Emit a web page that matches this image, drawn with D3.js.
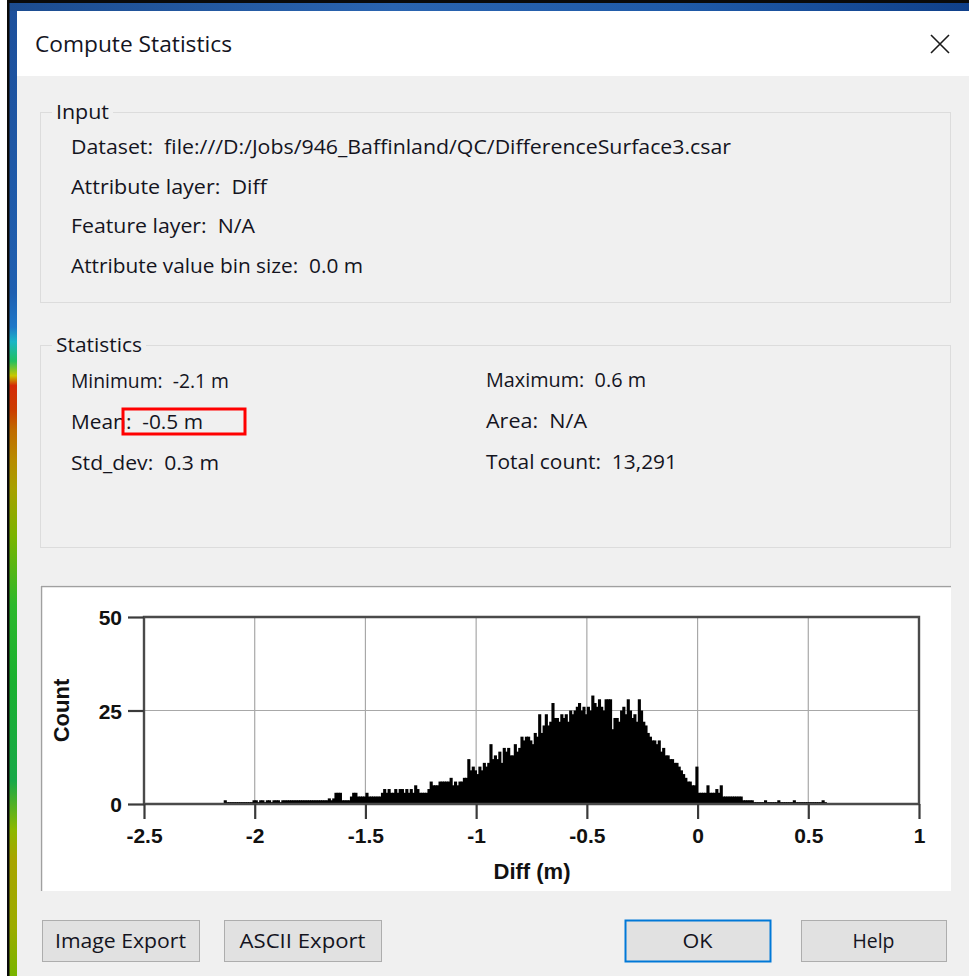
<!DOCTYPE html>
<html>
<head>
<meta charset="utf-8">
<script src="https://cdn.jsdelivr.net/npm/d3@7"></script>
<style>
  html, body { margin: 0; padding: 0; background: #ffffff; }
  svg { display: block; }
  text { white-space: pre; }
</style>
</head>
<body>
<svg id="chart" width="969" height="976"></svg>
<script>
// ---------------- DATA ----------------
// Histogram of "Diff (m)": bin start, bin width, and counts
const binStart = -2.14;
const binWidth = 0.01;
const counts = [
  // -2.14 .. -2.05
  1, 0.5, 0.5, 0.5, 0.5, 0.5, 0.5, 0.5, 0.5, 0.5,
  // -2.04 .. -1.95
  0.5, 0.5, 0.5, 1, 1, 0.5, 1, 1, 0.5, 1,
  // -1.94 .. -1.85
  1, 0.5, 1, 1, 1, 0.5, 1, 1, 1, 1,
  // -1.84 .. -1.75
  1, 1, 1, 1, 1, 1, 1, 1, 1, 1,
  // -1.74 .. -1.65
  1, 1, 1, 1, 1, 1, 1, 1.5, 1, 1.5,
  // -1.64 .. -1.55
  3, 3, 3, 1, 1, 1, 1, 2, 3, 3,
  // -1.54 .. -1.45
  2, 2, 2, 2, 3, 2, 2, 2, 2, 2,
  // -1.44 .. -1.35
  2, 3, 4, 3, 4, 3, 3, 4, 3, 4,
  // -1.34 .. -1.25
  4, 3, 4, 3, 4, 3, 5, 4, 3, 3,
  // -1.24 .. -1.15
  3, 3, 4, 6, 5, 5, 5, 6, 6, 6,
  // -1.14 .. -1.05
  6, 6, 7, 5, 6, 5, 6, 6, 7, 7,
  // -1.04 .. -0.95
  12, 9, 10, 9, 8, 10, 9, 11, 10, 11,
  // -0.94 .. -0.85
  16, 12, 13, 12, 14, 11, 15, 14, 15, 13,
  // -0.84 .. -0.75
  13, 16, 14, 15, 18, 17, 18, 18, 17, 16,
  // -0.74 .. -0.65
  19, 18, 24, 19, 21, 24, 21, 22, 27, 23,
  // -0.64 .. -0.55
  23, 22, 24, 23, 24, 22, 25, 24, 25, 26,
  // -0.54 .. -0.45
  27, 25, 26, 24, 26, 25, 29, 27, 26, 28,
  // -0.44 .. -0.35
  26, 25, 28, 28, 28, 20, 23, 23, 22, 25,
  // -0.34 .. -0.25
  26, 24, 28, 25, 23, 24, 22, 28, 25, 22,
  // -0.24 .. -0.15
  21, 19, 18, 17, 17, 16, 17, 14, 15, 13,
  // -0.14 .. -0.05
  13, 12, 12, 11, 11, 10, 9, 8, 7, 6,
  // -0.04 .. 0.05
  6, 5, 5, 10, 3, 3, 3, 3, 5, 3,
  // 0.06 .. 0.15
  3, 3, 4, 3, 5, 2, 2, 2, 2, 2,
  // 0.16 .. 0.25
  2, 2, 2, 2, 1, 1, 1, 1, 1, 0.5,
  // 0.26 .. 0.35
  0.5, 0.5, 0.5, 0.5, 1, 0.5, 0.5, 0.5, 0.5, 0.5,
  // 0.36 .. 0.45
  1, 0.5, 0.5, 0.5, 0.5, 0.5, 0.5, 1, 0.5, 0.5,
  // 0.46 .. 0.57
  0.5, 0.5, 0.5, 0.5, 0.5, 0.5, 0.5, 0.5, 0.5, 0.5, 1, 0.5
];
const xDomain = [-2.5, 1];
const yDomain = [0, 50];
const xTickValues = [-2.5, -2, -1.5, -1, -0.5, 0, 0.5, 1];
const xTickLabels = ["-2.5", "-2", "-1.5", "-1", "-0.5", "0", "0.5", "1"];
const yTickValues = [0, 25, 50];
const yTickLabels = ["0", "25", "50"];
const xTitle = "Diff (m)";
const yTitle = "Count";

// Dialog texts
const dialogTitle = "Compute Statistics";
const inputLabel = "Input";
const inputLines = [
  "Dataset:  file:///D:/Jobs/946_Baffinland/QC/DifferenceSurface3.csar",
  "Attribute layer:  Diff",
  "Feature layer:  N/A",
  "Attribute value bin size:  0.0 m"
];
const statsLabel = "Statistics";
const statsLeft = ["Minimum:  -2.1 m", "Mean:  -0.5 m", "Std_dev:  0.3 m"];
const statsRight = ["Maximum:  0.6 m", "Area:  N/A", "Total count:  13,291"];
const buttons = ["Image Export", "ASCII Export", "OK", "Help"];

// ---------------- DRAW ----------------
const svg = d3.select("#chart");
const UI_FONT = "'Open Sans', 'Noto Sans', sans-serif";
const CHART_FONT = "'Liberation Sans', Arial, sans-serif";
const TXT = "#14141e";

function uiText(g, str, x, y, size, width, anchor) {
  const t = g.append("text")
    .attr("x", x).attr("y", y)
    .attr("font-family", UI_FONT)
    .attr("font-size", size)
    .attr("fill", TXT)
    .attr("text-anchor", anchor || "start")
    .attr("xml:space", "preserve")
    .text(str);
  if (width) t.attr("textLength", width).attr("lengthAdjust", "spacingAndGlyphs");
  return t;
}

// background / window frame
svg.append("rect").attr("x", 0).attr("y", 0).attr("width", 969).attr("height", 976).attr("fill", "#f0f0f0");
const defs = svg.append("defs");
const lg = defs.append("linearGradient").attr("id", "stripGrad").attr("x1", 0).attr("y1", 0).attr("x2", 0).attr("y2", 1);
[[0, "#1d4f9a"], [0.30, "#1f5fb0"], [0.335, "#1f78c8"], [0.35, "#19b5c6"], [0.37, "#22c060"],
 [0.385, "#c8c800"], [0.395, "#d42a08"], [0.42, "#cc3c00"], [0.44, "#c06a00"], [0.47, "#b88a00"],
 [0.5, "#a8a000"], [0.55, "#7ab400"], [0.62, "#2cb82c"], [0.70, "#1ab030"], [0.80, "#18a848"],
 [0.85, "#8cb800"], [0.88, "#a8a400"], [0.95, "#9cac00"], [1, "#78b400"]]
  .forEach(([o, c]) => lg.append("stop").attr("offset", o).attr("stop-color", c));
svg.append("rect").attr("x", 0).attr("y", 0).attr("width", 7).attr("height", 976).attr("fill", "#ffffff");
svg.append("rect").attr("x", 9).attr("y", 0).attr("width", 8).attr("height", 976).attr("fill", "url(#stripGrad)");
const tg = defs.append("linearGradient").attr("id", "topGrad").attr("x1", 0).attr("y1", 0).attr("x2", 1).attr("y2", 0);
[[0, "#1c4c90"], [0.4, "#2a64b0"], [0.7, "#1f5aa8"], [1, "#10408a"]]
  .forEach(([o, c]) => tg.append("stop").attr("offset", o).attr("stop-color", c));
svg.append("rect").attr("x", 9).attr("y", 3).attr("width", 960).attr("height", 8).attr("fill", "url(#topGrad)");
svg.append("rect").attr("x", 7).attr("y", 0).attr("width", 962).attr("height", 3).attr("fill", "#0a0a0a");
svg.append("rect").attr("x", 7).attr("y", 0).attr("width", 2.5).attr("height", 976).attr("fill", "#0a0a0a");
// dialog body
svg.append("rect").attr("x", 17).attr("y", 11).attr("width", 952).attr("height", 965).attr("fill", "#f0f0f0");
// title bar
svg.append("rect").attr("x", 17).attr("y", 11).attr("width", 952).attr("height", 65).attr("fill", "#ffffff");

const ui = svg.append("g");
uiText(ui, dialogTitle, 35, 52, 21, 197);
ui.append("path").attr("d", "M931,35 L949,53 M949,35 L931,53")
  .attr("stroke", "#1a1a1a").attr("stroke-width", 1.6).attr("fill", "none");

function groupBox(x, y, w, h, label, labelW) {
  ui.append("rect").attr("x", x + 0.5).attr("y", y + 0.5).attr("width", w).attr("height", h)
    .attr("fill", "none").attr("stroke", "#dcdcdc").attr("stroke-width", 1);
  ui.append("rect").attr("x", x + 12).attr("y", y - 4).attr("width", labelW + 8).attr("height", 10).attr("fill", "#f0f0f0");
  uiText(ui, label, x + 16, y + 7, 20, labelW);
}
groupBox(40, 112, 910, 190, inputLabel, 53);
groupBox(40, 345, 910, 202, statsLabel, 86);

const inputY = [154, 194, 233, 273];
const inputW = [660, 196, 184, 292];
inputLines.forEach((s, i) => uiText(ui, s, 71, inputY[i], 20, inputW[i]));

const statY = [388, 429, 470];
const leftW = [158, 132, 148];
const rightW = [160, 101, 191];
statsLeft.forEach((s, i) => uiText(ui, s, 71, statY[i], 20, leftW[i]));
statsRight.forEach((s, i) => uiText(ui, s, 486, statY[i] - 1, 20, rightW[i]));

ui.append("rect").attr("x", 123).attr("y", 409).attr("width", 122).attr("height", 25)
  .attr("fill", "none").attr("stroke", "#ff0000").attr("stroke-width", 3);

// plot panel
ui.append("rect").attr("x", 40).attr("y", 585).attr("width", 911).attr("height", 306).attr("fill", "#ffffff");
ui.append("path").attr("d", "M41.5,891 L41.5,586.5 L951,586.5").attr("stroke", "#a0a0a0").attr("stroke-width", 1.5).attr("fill", "none");

// buttons
const btnX = [42, 224, 625, 801];
const btnW = [157, 157, 145, 145];
const btnTW = [131, 126, 30, 42];
buttons.forEach((b, i) => {
  const isDefault = b === "OK";
  ui.append("rect").attr("x", btnX[i] + 0.5).attr("y", 920.5).attr("width", btnW[i]).attr("height", 41)
    .attr("fill", "#e1e1e1")
    .attr("stroke", isDefault ? "#0078d7" : "#adadad")
    .attr("stroke-width", isDefault ? 2 : 1);
  uiText(ui, b, btnX[i] + btnW[i] / 2, 948, 20, btnTW[i], "middle");
});

// ---------------- HISTOGRAM ----------------
const plot = { left: 144, right: 919, top: 617, bottom: 804 };
const x = d3.scaleLinear().domain(xDomain).range([plot.left, plot.right]);
const y = d3.scaleLinear().domain(yDomain).range([plot.bottom, plot.top]);

const chart = svg.append("g");

chart.append("g").selectAll("line").data(xTickValues.slice(1, -1)).join("line")
  .attr("x1", d => x(d)).attr("x2", d => x(d))
  .attr("y1", y(50)).attr("y2", y(0))
  .attr("stroke", "#a8a8a8").attr("stroke-width", 1.2);
chart.append("g").selectAll("line").data([25]).join("line")
  .attr("x1", x(-2.5)).attr("x2", x(1))
  .attr("y1", d => y(d)).attr("y2", d => y(d))
  .attr("stroke", "#a8a8a8").attr("stroke-width", 1.2);

const bins = counts.map((c, i) => ({ x0: binStart + i * binWidth, x1: binStart + (i + 1) * binWidth, c }));
chart.append("g").selectAll("rect").data(bins).join("rect")
  .attr("x", d => x(d.x0))
  .attr("width", d => x(d.x1) - x(d.x0) + 0.9)
  .attr("y", d => y(d.c))
  .attr("height", d => y(0) - y(d.c))
  .attr("fill", "#000000");

chart.append("path")
  .attr("d", `M${x(-2.5)},${y(0)} L${x(-2.5)},${y(50)} L${x(1)},${y(50)} L${x(1)},${y(0)} Z`)
  .attr("fill", "none").attr("stroke", "#4a4a4a").attr("stroke-width", 2.4);

const yAxis = d3.axisLeft(y).tickValues(yTickValues).tickSize(16).tickPadding(6)
  .tickFormat((d, i) => yTickLabels[i]);
const xAxis = d3.axisBottom(x).tickValues(xTickValues).tickSize(15).tickPadding(10)
  .tickFormat((d, i) => xTickLabels[i]);

const gy = chart.append("g").attr("transform", `translate(${plot.left},0)`).call(yAxis);
const gx = chart.append("g").attr("transform", `translate(0,${plot.bottom})`).call(xAxis);
[gx, gy].forEach(g => {
  g.select(".domain").remove();
  g.selectAll(".tick line").attr("stroke", "#3a3a3a").attr("stroke-width", 2.2);
  g.selectAll(".tick text")
    .attr("font-family", CHART_FONT).attr("font-weight", "bold")
    .attr("font-size", 21).attr("fill", "#111");
});
gy.selectAll(".tick text").attr("dy", "0.36em");
gx.selectAll(".tick text").attr("dy", "0.68em");

chart.append("text")
  .attr("x", (plot.left + plot.right) / 2 + 0.5).attr("y", 879)
  .attr("text-anchor", "middle")
  .attr("font-family", CHART_FONT).attr("font-weight", "bold").attr("font-size", 22).attr("fill", "#111")
  .text(xTitle);
chart.append("text")
  .attr("transform", `translate(69,${(plot.top + plot.bottom) / 2}) rotate(-90)`)
  .attr("text-anchor", "middle")
  .attr("font-family", CHART_FONT).attr("font-weight", "bold").attr("font-size", 22).attr("fill", "#111")
  .text(yTitle);
</script>
</body>
</html>
